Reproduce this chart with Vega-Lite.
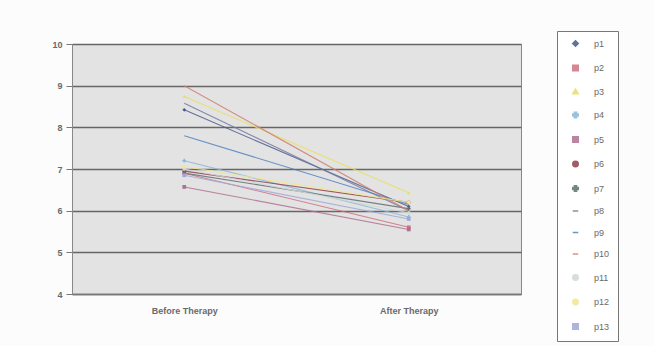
{
  "$schema": "https://vega.github.io/schema/vega-lite/v6.json",
  "width": 449,
  "height": 250,
  "autosize": {"type": "none"},
  "padding": {"left": 72, "top": 44, "right": 133, "bottom": 52},
  "background": "#fcfcfc",
  "config": {
    "font": "Liberation Sans",
    "view": {"fill": "#e3e3e3", "stroke": "#888888", "strokeWidth": 1}
  },
  "data": {
    "values": [
      {"patient": "p1", "phase": "Before Therapy", "score": 8.42},
      {"patient": "p1", "phase": "After Therapy", "score": 6.1},
      {"patient": "p2", "phase": "Before Therapy", "score": 6.9},
      {"patient": "p2", "phase": "After Therapy", "score": 5.6},
      {"patient": "p3", "phase": "Before Therapy", "score": 8.74},
      {"patient": "p3", "phase": "After Therapy", "score": 6.43},
      {"patient": "p4", "phase": "Before Therapy", "score": 7.2},
      {"patient": "p4", "phase": "After Therapy", "score": 5.85},
      {"patient": "p5", "phase": "Before Therapy", "score": 6.57},
      {"patient": "p5", "phase": "After Therapy", "score": 5.55},
      {"patient": "p6", "phase": "Before Therapy", "score": 6.95},
      {"patient": "p6", "phase": "After Therapy", "score": 6.2},
      {"patient": "p7", "phase": "Before Therapy", "score": 6.9},
      {"patient": "p7", "phase": "After Therapy", "score": 6.05},
      {"patient": "p8", "phase": "Before Therapy", "score": 8.58},
      {"patient": "p8", "phase": "After Therapy", "score": 6.0},
      {"patient": "p9", "phase": "Before Therapy", "score": 7.8},
      {"patient": "p9", "phase": "After Therapy", "score": 6.15},
      {"patient": "p10", "phase": "Before Therapy", "score": 9.0},
      {"patient": "p10", "phase": "After Therapy", "score": 6.0},
      {"patient": "p11", "phase": "Before Therapy", "score": 7.0},
      {"patient": "p11", "phase": "After Therapy", "score": 5.95},
      {"patient": "p12", "phase": "Before Therapy", "score": 7.06},
      {"patient": "p12", "phase": "After Therapy", "score": 6.2},
      {"patient": "p13", "phase": "Before Therapy", "score": 6.85},
      {"patient": "p13", "phase": "After Therapy", "score": 5.8}
    ]
  },
  "mark": {"type": "line", "strokeWidth": 1.1, "opacity": 0.85, "point": {"size": 14, "filled": true}},
  "encoding": {
    "x": {
      "field": "phase",
      "type": "nominal",
      "sort": ["Before Therapy", "After Therapy"],
      "axis": {
        "title": null,
        "labelAngle": 0,
        "ticks": false,
        "labelPadding": 12,
        "labelFontSize": 9,
        "labelFontWeight": "bold",
        "labelColor": "#6a6a6a",
        "domainColor": "#777777",
        "domainWidth": 1.5
      }
    },
    "y": {
      "field": "score",
      "type": "quantitative",
      "scale": {"domain": [4, 10], "nice": false, "zero": false},
      "axis": {
        "title": null,
        "values": [4, 5, 6, 7, 8, 9, 10],
        "grid": true,
        "gridColor": "#666666",
        "gridWidth": 1.5,
        "tickSize": 6,
        "tickColor": "#777777",
        "labelPadding": 4,
        "labelFontSize": 9,
        "labelFontWeight": "bold",
        "labelColor": "#6a6a6a",
        "domainColor": "#888888"
      }
    },
    "color": {
      "field": "patient",
      "type": "nominal",
      "sort": ["p1","p2","p3","p4","p5","p6","p7","p8","p9","p10","p11","p12","p13"],
      "scale": {
        "domain": ["p1","p2","p3","p4","p5","p6","p7","p8","p9","p10","p11","p12","p13"],
        "range": ["#4a5a8a","#d07080","#e8e060","#8ab8d8","#b07090","#904050","#607070","#7878a0","#5080c0","#d08070","#d0d8d8","#f0e890","#a0a8d8"]
      },
      "legend": {
        "title": null,
        "orient": "none",
        "legendX": 485,
        "legendY": -13,
        "strokeColor": "#777777",
        "fillColor": "#ffffff",
        "padding": 8,
        "rowPadding": 11.5,
        "labelFontSize": 9,
        "labelColor": "#6a6a6a",
        "labelOffset": 14,
        "symbolOffset": 6,
        "symbolSize": 30,
        "labelLimit": 40
      }
    },
    "shape": {
      "field": "patient",
      "type": "nominal",
      "sort": ["p1","p2","p3","p4","p5","p6","p7","p8","p9","p10","p11","p12","p13"],
      "scale": {
        "domain": ["p1","p2","p3","p4","p5","p6","p7","p8","p9","p10","p11","p12","p13"],
        "range": ["diamond","square","triangle-up","cross","square","circle","cross","stroke","stroke","stroke","circle","circle","square"]
      }
    }
  }
}
